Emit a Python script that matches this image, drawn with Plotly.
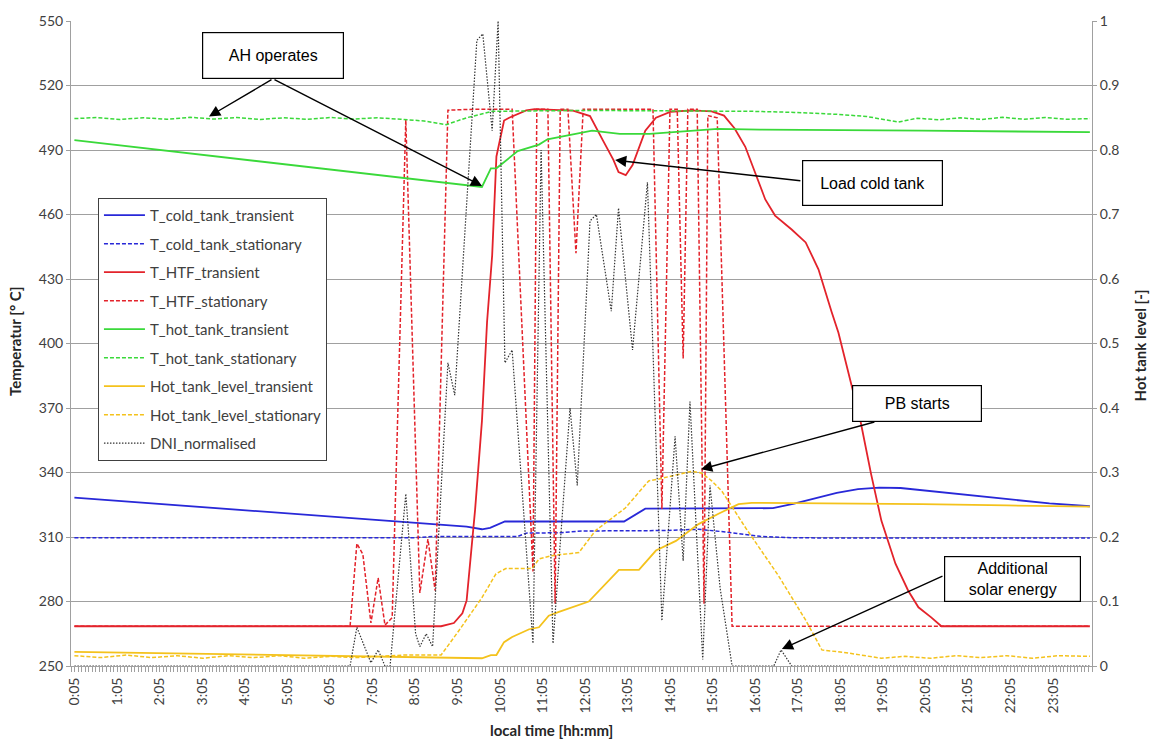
import plotly.graph_objects as go

# ---- time axis (hours after midnight) ----
tick_hours = [0.0833, 1.0833, 2.0833, 3.0833, 4.0833, 5.0833, 6.0833, 7.0833,
              8.0833, 9.0833, 10.0833, 11.0833, 12.0833, 13.0833, 14.0833, 15.0833,
              16.0833, 17.0833, 18.0833, 19.0833, 20.0833, 21.0833, 22.0833, 23.0833]
tick_labels = ["0:05", "1:05", "2:05", "3:05", "4:05", "5:05", "6:05", "7:05",
               "8:05", "9:05", "10:05", "11:05", "12:05", "13:05", "14:05", "15:05",
               "16:05", "17:05", "18:05", "19:05", "20:05", "21:05", "22:05", "23:05"]

# ---- cold tank temperature [°C] ----
cold_tr_t = [0.08, 9.3, 9.66, 9.85, 10.2, 13.0, 13.5, 16.2, 16.5, 17.0, 17.5, 18.0,
             18.5, 19.0, 19.5, 20.0, 21.0, 22.0, 23.0, 23.95]
cold_tr_v = [328.3, 314.8, 313.6, 314.3, 317.2, 317.2, 323.2, 323.2, 323.4, 325.5, 328.0,
             330.5, 332.3, 333.0, 332.8, 331.8, 329.6, 327.5, 325.6, 324.3]
cold_st_t = [0.08, 8.0, 8.5, 10.5, 10.7, 11.5, 12.0, 14.0, 14.75, 15.4, 16.2, 17.0, 23.95]
cold_st_v = [309.6, 309.6, 310.2, 310.2, 311.8, 312.0, 312.8, 313.0, 313.6, 312.3, 310.3,
             309.6, 309.5]

# ---- heat transfer fluid temperature [°C] ----
htf_tr_t = [0.08, 8.7, 9.0, 9.2, 9.3, 9.5, 9.66, 9.78, 9.9, 10.0, 10.18, 10.3, 10.7, 10.9,
            11.8, 12.2, 12.5, 12.75, 12.87, 13.04, 13.2, 13.5, 13.75, 14.1, 14.6, 15.06,
            15.35, 15.6, 15.85, 16.08, 16.32, 16.55, 16.94, 17.27, 17.57, 17.88, 18.04,
            18.56, 18.81, 19.05, 19.38, 19.68, 19.92, 20.22, 20.46, 23.95]
htf_tr_v = [268.5, 268.5, 270.0, 274.5, 280.5, 323.0, 364.0, 410.0, 441.0, 487.0, 503.7,
            505.0, 508.4, 509.0, 508.3, 505.8, 494.6, 485.4, 479.7, 478.3, 483.0, 499.0,
            505.0, 507.8, 508.4, 508.0, 506.0, 500.0, 491.5, 479.5, 467.0, 459.5, 453.0,
            447.0, 434.5, 414.6, 405.0, 363.7, 339.0, 317.5, 297.6, 285.0, 277.3, 272.6,
            268.5, 268.5]
htf_st_t = [0.08, 6.56, 6.72, 6.86, 7.05, 7.22, 7.38, 7.55, 7.87, 8.2, 8.39, 8.56, 8.86,
            9.5, 10.37, 10.86, 10.95, 11.21, 11.38, 11.5, 11.68, 11.87, 12.04, 13.0,
            13.68, 13.89, 14.08, 14.25, 14.39, 14.5, 14.72, 14.88, 14.97, 15.19, 15.54,
            23.95]
htf_st_v = [268.5, 268.5, 307.0, 302.0, 270.0, 291.0, 269.0, 272.5, 504.0, 284.0, 309.0,
            285.0, 508.5, 509.0, 509.0, 294.0, 509.0, 509.0, 279.0, 509.0, 509.0, 442.0,
            509.0, 509.0, 509.0, 323.0, 509.0, 509.0, 393.0, 509.0, 509.0, 279.0, 506.0,
            505.0, 268.5, 268.5]

# ---- hot tank temperature [°C] ----
hot_tr_t = [0.08, 9.66, 9.87, 10.0, 10.5, 11.0, 11.2, 11.7, 12.25, 12.9, 13.6, 15.2,
            16.2, 20.0, 23.95]
hot_tr_v = [494.6, 472.8, 481.5, 481.5, 489.5, 492.5, 495.0, 496.8, 499.0, 497.5, 497.5,
            499.8, 499.5, 499.0, 498.3]
hot_st_t = [0.08, 0.6, 1.15, 1.7, 2.25, 2.8, 3.35, 3.9, 4.45, 5.0, 5.55, 6.1, 6.65, 7.2,
            7.75, 8.3, 8.82, 9.3, 9.9, 12.0, 14.0, 16.0, 17.0, 18.0, 18.7, 19.45, 19.9,
            20.4, 20.9, 21.4, 21.9, 22.4, 22.9, 23.4, 23.95]
hot_st_v = [504.6, 505.1, 504.2, 505.0, 504.3, 505.2, 504.4, 505.1, 504.2, 505.0, 504.3,
            505.1, 504.4, 505.0, 504.3, 503.5, 501.8, 505.0, 508.0, 508.4, 508.2, 508.0,
            507.5, 506.6, 505.6, 503.0, 504.8, 504.0, 505.0, 504.2, 505.2, 504.3, 505.1,
            504.3, 504.6]

# ---- hot tank level [-] ----
lvl_tr_t = [0.08, 9.6, 9.66, 9.87, 10.0, 10.18, 10.37, 10.77, 11.0, 11.23, 11.47, 12.17,
            12.88, 13.35, 13.75, 14.22, 14.75, 15.22, 15.69, 16.0, 18.8, 20.0, 22.0, 23.95]
lvl_tr_v = [0.022, 0.013, 0.012, 0.017, 0.017, 0.037, 0.045, 0.057, 0.060, 0.078, 0.084,
            0.100, 0.149, 0.149, 0.179, 0.194, 0.220, 0.236, 0.251, 0.253, 0.252, 0.251,
            0.249, 0.247]
lvl_st_t = [0.08, 0.7, 1.3, 1.9, 2.5, 3.1, 3.7, 4.3, 4.9, 5.5, 6.1, 6.7, 7.3, 7.8, 8.7,
            9.12, 9.66, 9.99, 10.22, 10.84, 11.0, 11.3, 11.94, 12.33, 13.03, 13.58, 13.82,
            14.2, 14.6, 14.83, 15.06, 15.3, 15.86, 16.63, 17.27, 17.65, 18.28, 19.05, 19.6,
            20.2, 20.8, 21.4, 22.0, 22.6, 23.2, 23.95]
lvl_st_v = [0.016, 0.013, 0.017, 0.013, 0.016, 0.012, 0.016, 0.013, 0.016, 0.012, 0.015,
            0.013, 0.015, 0.017, 0.017, 0.055, 0.106, 0.143, 0.151, 0.151, 0.166, 0.171,
            0.176, 0.210, 0.245, 0.287, 0.290, 0.296, 0.302, 0.299, 0.287, 0.271, 0.214,
            0.140, 0.071, 0.025, 0.020, 0.012, 0.015, 0.012, 0.016, 0.013, 0.016, 0.012,
            0.016, 0.015]

# ---- normalised direct normal irradiance [-] ----
dni_t = [0.08, 6.56, 6.72, 7.05, 7.22, 7.38, 7.5, 7.87, 8.1, 8.2, 8.35, 8.5, 8.86, 9.02,
         9.54, 9.68, 9.9, 10.04, 10.2, 10.37, 10.86, 11.05, 11.33, 11.73, 11.9, 12.2,
         12.35, 12.7, 12.87, 13.2, 13.55, 13.89, 14.2, 14.39, 14.55, 14.85, 15.02, 15.26,
         15.54, 16.52, 16.69, 16.94, 23.95]
dni_v = [0.0, 0.0, 0.06, 0.005, 0.025, 0.0, 0.0, 0.267, 0.05, 0.03, 0.05, 0.03, 0.47, 0.42,
         0.97, 0.98, 0.83, 1.0, 0.47, 0.49, 0.035, 0.80, 0.035, 0.40, 0.28, 0.69, 0.70,
         0.55, 0.71, 0.49, 0.75, 0.07, 0.356, 0.163, 0.41, 0.01, 0.28, 0.12, 0.0, 0.0,
         0.025, 0.0, 0.0]

BLUE = "#2828d8"
RED = "#e3232b"
GREEN = "#3ad93a"
GOLD = "#f4c21c"
DOT = "#333333"
DASH = "4px,2px"

fig = go.Figure()


def add(name, t, v, color, width, dash=None, axis="y"):
    fig.add_trace(go.Scatter(
        x=t, y=v, name=name, mode="lines", yaxis=axis, legendgroup=name,
        line=dict(color=color, width=width, dash=dash),
        hoverinfo="skip"))


add("T_cold_tank_transient", cold_tr_t, cold_tr_v, BLUE, 1.8)
add("T_cold_tank_stationary", cold_st_t, cold_st_v, BLUE, 1.5, DASH)
add("T_HTF_transient", htf_tr_t, htf_tr_v, RED, 1.8)
add("T_HTF_stationary", htf_st_t, htf_st_v, RED, 1.5, DASH)
add("T_hot_tank_transient", hot_tr_t, hot_tr_v, GREEN, 1.8)
add("T_hot_tank_stationary", hot_st_t, hot_st_v, GREEN, 1.5, DASH)
add("Hot_tank_level_transient", lvl_tr_t, lvl_tr_v, GOLD, 1.8, None, "y2")
add("Hot_tank_level_stationary", lvl_st_t, lvl_st_v, GOLD, 1.5, DASH, "y2")
add("DNI_normalised", dni_t, dni_v, DOT, 1.2, "1.5px,1.5px", "y2")

AXIS_GREY = "#a0a0a0"
TICK_FONT = dict(family="Lato", size=14, color="#404040")
TITLE_FONT = dict(family="Lato", size=15, color="#262626")

fig.update_layout(
    width=1154, height=740,
    margin=dict(l=71, r=62, t=17, b=74),
    paper_bgcolor="white", plot_bgcolor="white",
    font=dict(family="Lato", color="#404040"),
    showlegend=True,
    legend=dict(
        x=0.0264, y=0.7257, xanchor="left", yanchor="top",
        bgcolor="white", bordercolor="#404040", borderwidth=1,
        font=dict(family="Lato", size=15, color="#404040"),
        itemwidth=41, tracegroupgap=6, traceorder="grouped",
    ),
    xaxis=dict(
        range=[0, 24], tickmode="array", tickvals=tick_hours, ticktext=tick_labels,
        tickangle=-90, tickfont=TICK_FONT, showgrid=False, zeroline=False,
        showline=True, linecolor=AXIS_GREY, linewidth=1,
        ticks="outside", ticklen=5, tickcolor=AXIS_GREY,
        minor=dict(dtick=1 / 12, tick0=0, ticks="outside", ticklen=5,
                   tickcolor=AXIS_GREY, showgrid=False),
    ),
    yaxis=dict(
        range=[250, 550], dtick=30, tick0=250, tickfont=TICK_FONT,
        showgrid=True, gridcolor=AXIS_GREY, gridwidth=1, zeroline=False,
        showline=True, linecolor=AXIS_GREY, linewidth=1,
        ticks="outside", ticklen=4, tickcolor=AXIS_GREY,
    ),
    yaxis2=dict(
        range=[0, 1], dtick=0.1, tick0=0, overlaying="y", side="right",
        tickfont=TICK_FONT, showgrid=False, zeroline=False,
        showline=True, linecolor=AXIS_GREY, linewidth=1,
        ticks="outside", ticklen=4, tickcolor=AXIS_GREY,
    ),
)

# axis titles
fig.add_annotation(x=0.4706, y=-0.0986, xref="paper", yref="paper",
                   xanchor="center", yanchor="middle",
                   text="<b>local time [hh:mm]</b>", showarrow=False, font=TITLE_FONT)
fig.add_annotation(x=-0.0548, y=0.5023, xref="paper", yref="paper", textangle=-90,
                   xanchor="center", yanchor="middle",
                   text="<b>Temperatur [° C]</b>", showarrow=False, font=TITLE_FONT)
fig.add_annotation(x=1.047, y=0.497, xref="paper", yref="paper", textangle=-90,
                   xanchor="center", yanchor="middle",
                   text="<b>Hot tank level [-]</b>", showarrow=False, font=TITLE_FONT)

BOX_FONT = dict(family="Liberation Sans, Arial", size=16, color="black")


def box(text, x, y, w, h):
    fig.add_annotation(x=x, y=y, xref="x", yref="y", text=text, showarrow=False,
                       font=BOX_FONT, bgcolor="white", bordercolor="black",
                       borderwidth=1.2, width=w, height=h, align="center")


def arrow(x0, y0, x1, y1):
    fig.add_annotation(x=x1, y=y1, ax=x0, ay=y0, xref="x", yref="y", axref="x",
                       ayref="y", text="", showarrow=True, arrowhead=2,
                       arrowsize=1.6, arrowwidth=1.4, arrowcolor="black", standoff=0)


# callouts
arrow(4.748, 523.1, 3.244, 505.6)
arrow(4.748, 523.1, 9.662, 473.3)
box("AH operates", 4.748, 534.0, 138, 43)

arrow(17.18, 475.6, 12.79, 485.3)
box("Load cold tank", 18.84, 474.6, 137, 42)

arrow(18.92, 363.7, 14.81, 341.5)
box("PB starts", 19.89, 372.3, 126, 33)

arrow(20.52, 292.1, 16.71, 257.9)
box("Additional<br>solar energy", 22.13, 290.7, 133, 42)

fig.write_html("out.html")
